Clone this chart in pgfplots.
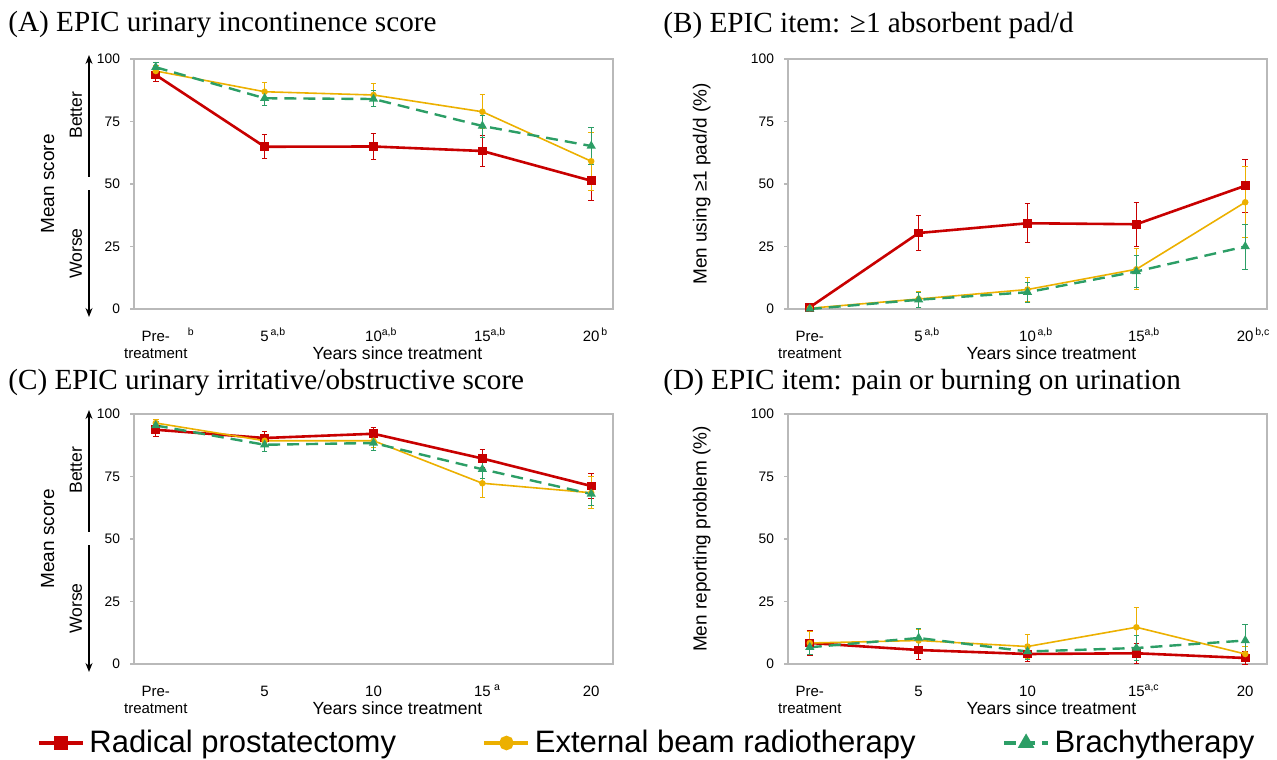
\documentclass[border=0pt]{standalone}
\usepackage{fontspec}
\setmainfont{Liberation Serif}
\newfontfamily\arial{Liberation Sans}
\usepackage{pgfplots}
\pgfplotsset{compat=1.18}
\usetikzlibrary{arrows.meta}
\definecolor{rpred}{RGB}{200,0,0}
\definecolor{ebor}{RGB}{236,176,0}
\definecolor{brgr}{RGB}{44,158,102}
\definecolor{axgray}{RGB}{185,185,185}
\newcommand\ph{\vphantom{0\textsuperscript{b}}}
\newcommand\sps[1]{\rlap{\textsuperscript{#1}}}
\pgfplotsset{
  panel/.style={
    scale only axis, width=239.5pt, height=125pt,
    xmin=-0.2, xmax=4.2, ymin=0, ymax=100,
    ytick={0,25,50,75,100}, xtick={0,1,2,3,4},
    axis line style={draw=axgray, line width=0.6pt},
    tick style={draw=axgray, line width=0.6pt},
    major tick length=2pt, tick align=outside,
    ytick pos=left, xtick pos=bottom,
    xtick style={draw=none},
    /pgf/number format/assume math mode=true,
    yticklabel style={font=\arial\fontsize{6.9}{7}\selectfont, xshift=-1.5pt},
    xticklabel style={font=\arial\fontsize{7.5}{8.6}\selectfont, align=center, anchor=north, yshift=-4pt},
    xlabel={Years since treatment},
    xlabel style={font=\arial\fontsize{8.8}{9}\selectfont, at={(axis description cs:0.5,0)}, anchor=center, yshift=-22pt, xshift=12pt},
    ylabel style={font=\arial\fontsize{9.5}{10}\selectfont, at={(axis description cs:-0.18,0.5)}, anchor=center},
    clip=false,
    error bars/y dir=both, error bars/y explicit,
    error bars/error bar style={line width=0.5pt, solid},
    error bars/error mark options={rotate=90, mark size=1.4pt, line width=0.5pt, solid},
  },
  rp/.style={color=rpred, line width=1.3pt, mark=square*, mark size=1.5pt, mark options={solid}},
  eb/.style={color=ebor, line width=0.8pt, mark=*, mark size=1.2pt, mark options={solid}},
  br/.style={color=brgr, line width=1.2pt, dash pattern=on 6pt off 3.5pt, mark=triangle*, mark size=1.5pt, mark options={solid}},
  bw/.style={
    after end axis/.code={
      \draw[line width=0.7pt, -{Stealth[length=4.5pt,width=3.5pt]}] ([xshift=-22.5pt]rel axis cs:0,0.53) -- ([xshift=-22.5pt]rel axis cs:0,1.016);
      \draw[line width=0.7pt, -{Stealth[length=4.5pt,width=3.5pt]}] ([xshift=-22.5pt]rel axis cs:0,0.475) -- ([xshift=-22.5pt]rel axis cs:0,-0.032);
      \node[font=\arial\fontsize{8.8}{9}\selectfont, rotate=90] at ([xshift=-29pt]rel axis cs:0,0.775) {Better};
      \node[font=\arial\fontsize{8.8}{9}\selectfont, rotate=90] at ([xshift=-29pt]rel axis cs:0,0.222) {Worse};
    }
  },
}
\begin{document}
\begin{tikzpicture}
\path[use as bounding box] (0,0) rectangle (638.5pt,-379.5pt);
\node[anchor=west, font=\fontsize{14.6}{16}\selectfont, inner sep=0pt] at (4pt,-12.5pt) {(A) EPIC urinary incontinence score};
\node[anchor=west, font=\fontsize{14.6}{16}\selectfont, inner sep=0pt] at (331.5pt,-12.5pt) {(B) EPIC item: ≥1 absorbent pad/d};
\node[anchor=west, font=\fontsize{14.6}{16}\selectfont, inner sep=0pt] at (4pt,-191.5pt) {(C) EPIC urinary irritative/obstructive score};
\node[anchor=west, font=\fontsize{14.6}{16}\selectfont, inner sep=0pt] at (331.5pt,-191.5pt) {(D) EPIC item: pain or burning on urination};

% Panel A
\begin{axis}[panel, bw, at={(67pt,-29.5pt)}, anchor=north west,
  xticklabels={{\ph Pre-\sps{\hspace{9pt}b}\\treatment},{\ph 5\sps{\,a,b}},{\ph 10\sps{a,b}},{\ph 15\sps{a,b}},{\ph 20\sps{\,b}}},
  ylabel={Mean score}]
\addplot[rp] table[x=x,y=y,y error=e] {
x y e
0 93.6 2.5
1 64.9 4.8
2 65.0 5.2
3 63.2 6.3
4 51.3 8.0
};
\addplot[eb] table[x=x,y=y,y error=e] {
x y e
0 95.2 2.0
1 86.9 3.6
2 85.6 4.7
3 78.9 6.7
4 59.1 11.5
};
\addplot[br] table[x=x,y=y,y error=e] {
x y e
0 96.7 1.8
1 84.3 3.0
2 84.0 3.2
3 73.2 4.4
4 65.2 7.5
};
\end{axis}

% Panel B
\begin{axis}[panel, at={(394pt,-29.5pt)}, anchor=north west,
  xticklabels={{\ph Pre-\\treatment},{\ph 5\sps{\,a,b}},{\ph 10\sps{\,a,b}},{\ph 15\sps{a,b}},{\ph 20\sps{\,b,c}}},
  ylabel={Men using ≥1 pad/d (\%)}]
\addplot[rp] table[x=x,y=y,y error=e] {
x y e
0 0.7 1.0
1 30.4 7.1
2 34.3 7.8
3 33.9 8.9
4 49.3 10.5
};
\addplot[eb] table[x=x,y=y,y error=e] {
x y e
0 0.3 0.8
1 4.0 3.2
2 7.8 4.9
3 15.9 8.2
4 42.7 14.2
};
\addplot[br] table[x=x,y=y,y error=e] {
x y e
0 0.0 0.8
1 3.7 3.0
2 6.7 4.0
3 15.0 6.4
4 25.0 9.0
};
\end{axis}

% Panel C
\begin{axis}[panel, bw, at={(67pt,-207pt)}, anchor=north west,
  xticklabels={{\ph Pre-\\treatment},{\ph 5},{\ph 10},{\ph 15\sps{\,\,a}},{\ph 20}},
  ylabel={Mean score},
  legend columns=3,
  legend style={at={(axis description cs:1.072,-0.316)}, anchor=center, draw=none, fill=none,
    font=\arial\fontsize{15.5}{16}\selectfont, inner sep=0pt,
    /tikz/every even column/.append style={column sep=41pt}},
  legend image code/.code={\draw[mark repeat=2,mark phase=2,#1, line width=2.4pt, mark size=2.4pt] plot coordinates {(0pt,0pt) (11pt,0pt) (22pt,0pt)};}]
\addplot[rp] table[x=x,y=y,y error=e] {
x y e
0 93.7 2.5
1 90.4 2.7
2 92.1 2.5
3 82.2 3.5
4 71.2 5.1
};
\addlegendentry{Radical prostatectomy}
\addplot[eb] table[x=x,y=y,y error=e] {
x y e
0 96.4 1.5
1 89.3 2.0
2 89.3 2.5
3 72.3 5.5
4 68.5 6.4
};
\addlegendentry{External beam radiotherapy}
\addplot[br] table[x=x,y=y,y error=e] {
x y e
0 95.4 1.8
1 87.7 2.5
2 88.4 3.0
3 77.9 3.5
4 68.0 4.5
};
\addlegendentry{Brachytherapy}
\end{axis}

% Panel D
\begin{axis}[panel, at={(394pt,-207pt)}, anchor=north west,
  xticklabels={{\ph Pre-\\treatment},{\ph 5},{\ph 10},{\ph 15\sps{a,c}},{\ph 20}},
  ylabel={Men reporting problem (\%)}]
\addplot[rp] table[x=x,y=y,y error=e] {
x y e
0 8.4 5.0
1 5.6 3.7
2 4.0 3.0
3 4.3 4.0
4 2.4 2.5
};
\addplot[eb] table[x=x,y=y,y error=e] {
x y e
0 8.4 4.5
1 9.4 4.5
2 7.0 4.7
3 14.7 8.0
4 4.0 3.0
};
\addplot[br] table[x=x,y=y,y error=e] {
x y e
0 6.7 3.0
1 10.4 3.9
2 5.0 3.0
3 6.4 5.0
4 9.4 6.3
};
\end{axis}
\end{tikzpicture}
\end{document}
